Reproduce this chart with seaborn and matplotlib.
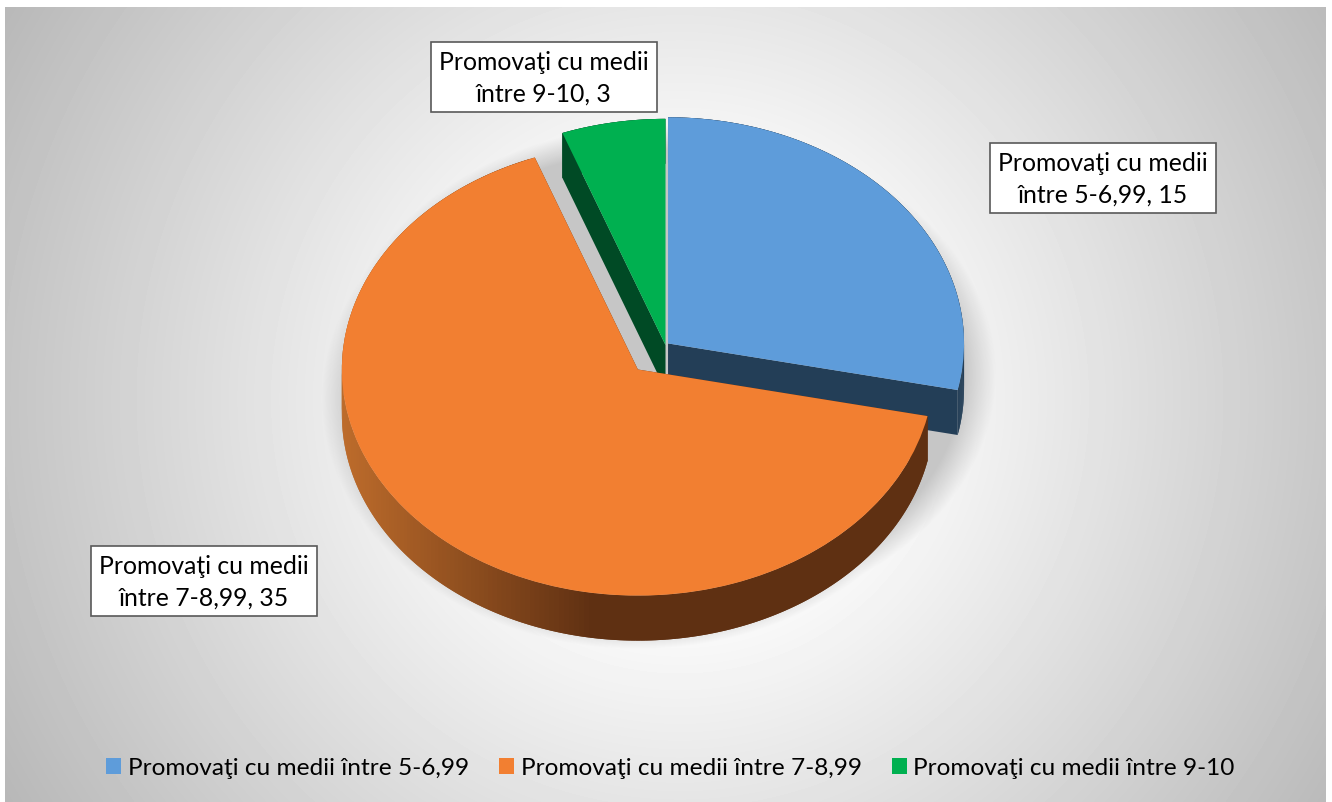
import numpy as np
import matplotlib
matplotlib.use("Agg")
import matplotlib.pyplot as plt
from matplotlib.collections import PolyCollection
import seaborn as sns

categories = ["Promovaţi cu medii între 5-6,99",
              "Promovaţi cu medii între 7-8,99",
              "Promovaţi cu medii între 9-10"]
values = [15, 35, 3]
explode = [0.011, 0.143, 0]
top_colors = ["#5E9CDA", "#F27F31", "#00B050"]
side_colors = ["#233E57", "#5F3012", "#004A25"]
label_centers = [(1103, 179), (204, 582), (544, 78)]

W, H = 1332, 803
SQUASH = 0.764
DEPTH = 45
RADIUS = 296
CENTER = (665.5, 346)

sns.set_theme(style="white")
plt.rcParams['font.family'] = ['Lato', 'DejaVu Sans']

fig = plt.figure(figsize=(W / 100, H / 100), dpi=100, facecolor="white")

# pixel axes for background, shadow and texts
bg = fig.add_axes([0, 0, 1, 1])
bg.set_xlim(0, W)
bg.set_ylim(H, 0)
bg.axis("off")

xx, yy = np.meshgrid(np.arange(5, 1326) + 0.5, np.arange(8, H) + 0.5)
dist = np.hypot(xx - 680, yy - 400)
shade = np.clip(255 - (dist - 182) * 0.1185, 0, 255) / 255
bg.imshow(shade, cmap="gray", vmin=0, vmax=1, extent=(5, 1326, H, 8), aspect="auto", zorder=0)

# soft shadow below the pie, cut off by its box like in the original
sx, sy = np.meshgrid(np.arange(320, 1010) + 0.5, np.arange(120, 658) + 0.5)
r1 = np.hypot((sx - 638) / 316, (sy - 400) / 250)
r2 = np.hypot((sx - 666) / 330, (sy - 375) / 250)
alpha = np.maximum(np.clip((1 - r1) / 0.1, 0, 1), np.clip((1 - r2) / 0.1, 0, 1))
rgba = np.zeros(sx.shape + (4,))
rgba[..., :3] = 0.78
rgba[..., 3] = alpha
bg.imshow(rgba, extent=(320, 1010, 658, 120), aspect="auto", zorder=1)
bg.set_xlim(0, W)
bg.set_ylim(H, 0)

# pie axes, y is squashed so the round pie turns into an ellipse
ax = fig.add_axes([0, 0, 1, 1], zorder=2)
ax.patch.set_alpha(0)
# pie takes explode in data units, not as a share of the radius
wedges, _ = ax.pie(values, explode=[e * RADIUS for e in explode], colors=top_colors,
                   startangle=90, counterclock=False,
                   radius=RADIUS, center=(CENTER[0], (H - CENTER[1]) / SQUASH),
                   wedgeprops={"linewidth": 0, "zorder": 5})
ax.set_aspect("auto")
ax.set_xlim(0, W)
ax.set_ylim(0, H / SQUASH)
ax.axis("off")


def side_color(i, x):
    if i != 1:
        return side_colors[i]
    # only the orange side has the light gradient
    t = np.clip((x - 345) / (590 - 345), 0, 1)
    a = np.array(matplotlib.colors.to_rgb("#BC6B2B"))
    b = np.array(matplotlib.colors.to_rgb(side_colors[1]))
    return tuple(a + (b - a) * t)


drop = DEPTH / SQUASH
for order, i in enumerate([0, 2, 1]):
    w = wedges[i]
    cx, cy = w.center
    th = np.radians(np.linspace(w.theta1, w.theta2, 240))
    ex = cx + w.r * np.cos(th)
    ey = cy + w.r * np.sin(th)
    n = len(th)
    # each quad overlaps the next one so no seams show
    quads = [[(ex[k], ey[k]), (ex[min(k + 2, n - 1)], ey[min(k + 2, n - 1)]),
              (ex[min(k + 2, n - 1)], ey[min(k + 2, n - 1)] - drop), (ex[k], ey[k] - drop)]
             for k in range(n - 1)]
    cols = [side_color(i, ex[k]) for k in range(n - 1)]
    # the two cut faces
    for e in (0, -1):
        quads.append([(cx, cy), (ex[e], ey[e]), (ex[e], ey[e] - drop), (cx, cy - drop)])
        cols.append(side_colors[i])
    pc = PolyCollection(quads, facecolors=cols, edgecolors="none", linewidths=0, zorder=1 + order)
    ax.add_collection(pc)

for name, val, (lx, ly) in zip(categories, values, label_centers):
    bg.text(lx, ly, f"{name}, {val}".replace("medii ", "medii\n"), ha="center", va="center",
            fontsize=17.8, color="black", linespacing=1.44, zorder=6,
            bbox={"boxstyle": "square,pad=0.33", "facecolor": "white", "edgecolor": "#595959", "linewidth": 1.2})

bg.legend(wedges, categories, loc="center", bbox_to_anchor=(670.5, 769), bbox_transform=bg.transData,
          ncol=3, frameon=False, fontsize=17.6, handlelength=0.62, handleheight=0.62,
          handletextpad=0.27, columnspacing=1.22, borderpad=0, labelcolor="black")

fig.savefig("out.png", dpi=100)
